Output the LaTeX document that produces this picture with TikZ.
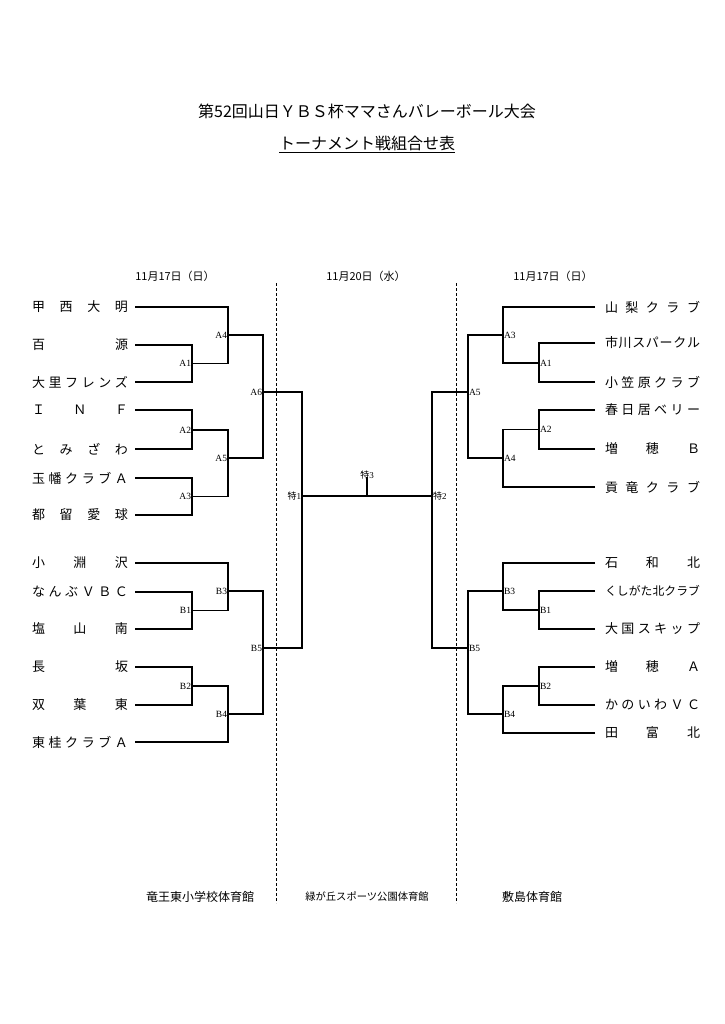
\documentclass[tikz,border=0pt]{standalone}
\usepackage{fontspec}
\setmainfont{Noto Sans CJK JP}
\newfontfamily\lserif{Liberation Serif}
\newcommand\tgap{\hfill}
\begin{document}
\begin{tikzpicture}[x=1pt,y=-1pt,
  every node/.style={inner sep=0pt, outer sep=0pt},
  lteam/.style={anchor=west, font=\fontsize{13}{14}\selectfont},
  mlab/.style={font=\lserif\fontsize{9.5}{10}\selectfont, inner sep=1pt},
  slab/.style={font=\fontsize{9}{10}\selectfont, inner sep=1pt},
  bline/.style={line width=1.1pt},
  sepline/.style={dash pattern=on 3pt off 2pt, line width=0.8pt},
  datelab/.style={font=\fontsize{11}{12}\selectfont},
  venue/.style={font=\fontsize{12}{14}\selectfont}]
\useasboundingbox (0,0) rectangle (724,1024);
\fill[white] (0,0) rectangle (724,1024);

% titles
\node[font=\fontsize{16}{18}\selectfont] (T1) at (367,111) {第52回山日ＹＢＳ杯ママさんバレーボール大会};
\node[font=\fontsize{16}{18}\selectfont] (T2) at (367,144) {\underline{トーナメント戦組合せ表}};

% dates
\node[datelab] (D1) at (175,276) {11月17日（日）};
\node[datelab] (D2) at (366,276) {11月20日（水）};
\node[datelab] (D3) at (553,276) {11月17日（日）};

% separators
\coordinate (SepLT) at (276,283);
\coordinate (SepLB) at (276,903);
\coordinate (SepRT) at (456,283);
\coordinate (SepRB) at (456,903);
\draw[sepline] (SepLT) -- (SepLB);
\draw[sepline] (SepRT) -- (SepRB);

% venues
\node[venue] (V1) at (200,897) {竜王東小学校体育館};
\node[font=\fontsize{10.3}{12}\selectfont] (V2) at (367,897) {緑が丘スポーツ公園体育館};
\node[venue] (V3) at (532,897) {敷島体育館};

% left teams
\node[lteam] (L1) at (32,307) {\hbox to 96pt{甲\tgap 西\tgap 大\tgap 明}};
\node[lteam] (L2) at (32,345) {\hbox to 96pt{百\tgap 源}};
\node[lteam] (L3) at (32,382) {\hbox to 96pt{大\tgap 里\tgap フ\tgap レ\tgap ン\tgap ズ}};
\node[lteam] (L4) at (32,410) {\hbox to 96pt{Ｉ\tgap Ｎ\tgap Ｆ}};
\node[lteam] (L5) at (32,449) {\hbox to 96pt{と\tgap み\tgap ざ\tgap わ}};
\node[lteam] (L6) at (32,478) {\hbox to 96pt{玉\tgap 幡\tgap ク\tgap ラ\tgap ブ\tgap Ａ}};
\node[lteam] (L7) at (32,515) {\hbox to 96pt{都\tgap 留\tgap 愛\tgap 球}};
\node[lteam] (L8) at (32,563) {\hbox to 96pt{小\tgap 淵\tgap 沢}};
\node[lteam] (L9) at (32,592) {\hbox to 96pt{な\tgap ん\tgap ぶ\tgap Ｖ\tgap Ｂ\tgap Ｃ}};
\node[lteam] (L10) at (32,629) {\hbox to 96pt{塩\tgap 山\tgap 南}};
\node[lteam] (L11) at (32,667) {\hbox to 96pt{長\tgap 坂}};
\node[lteam] (L12) at (32,705) {\hbox to 96pt{双\tgap 葉\tgap 東}};
\node[lteam] (L13) at (32,742) {\hbox to 96pt{東\tgap 桂\tgap ク\tgap ラ\tgap ブ\tgap Ａ}};

% right teams
\node[lteam] (R1) at (605,307) {\hbox to 95pt{山\tgap 梨\tgap ク\tgap ラ\tgap ブ}};
\node[lteam] (R2) at (605,343) {\hbox to 95pt{市\tgap 川\tgap ス\tgap パ\tgap ー\tgap ク\tgap ル}};
\node[lteam] (R3) at (605,382) {\hbox to 95pt{小\tgap 笠\tgap 原\tgap ク\tgap ラ\tgap ブ}};
\node[lteam] (R4) at (605,410) {\hbox to 95pt{春\tgap 日\tgap 居\tgap ベ\tgap リ\tgap ー}};
\node[lteam] (R5) at (605,449) {\hbox to 95pt{増\tgap 穂\tgap Ｂ}};
\node[lteam] (R6) at (605,487) {\hbox to 95pt{貢\tgap 竜\tgap ク\tgap ラ\tgap ブ}};
\node[lteam] (R7) at (605,563) {\hbox to 95pt{石\tgap 和\tgap 北}};
\node[lteam, font=\fontsize{11.8}{13}\selectfont] (R8) at (605,591) {\hbox to 95pt{く\tgap し\tgap が\tgap た\tgap 北\tgap ク\tgap ラ\tgap ブ}};
\node[lteam] (R9) at (605,629) {\hbox to 95pt{大\tgap 国\tgap ス\tgap キ\tgap ッ\tgap プ}};
\node[lteam] (R10) at (605,667) {\hbox to 95pt{増\tgap 穂\tgap Ａ}};
\node[lteam] (R11) at (605,705) {\hbox to 95pt{か\tgap の\tgap い\tgap わ\tgap Ｖ\tgap Ｃ}};
\node[lteam] (R12) at (605,733) {\hbox to 95pt{田\tgap 富\tgap 北}};

% match points
\coordinate (lA1) at (192,363.5);
\coordinate (lA2) at (192,430);
\coordinate (lA3) at (192,496.5);
\coordinate (lA4) at (228,335);
\coordinate (lA5) at (228,458);
\coordinate (lA6) at (263,392);
\coordinate (lB1) at (192,610.5);
\coordinate (lB2) at (192,686);
\coordinate (lB3) at (228,591);
\coordinate (lB4) at (228,714);
\coordinate (lB5) at (263,648);
\coordinate (S1) at (302,496);
\coordinate (S2) at (432,496);
\coordinate (S3) at (367,477);
\coordinate (rA1) at (539,363);
\coordinate (rA2) at (539,429.5);
\coordinate (rA3) at (503,335);
\coordinate (rA4) at (503,458);
\coordinate (rA5) at (468,392);
\coordinate (rB1) at (539,610);
\coordinate (rB2) at (539,686);
\coordinate (rB3) at (503,591);
\coordinate (rB4) at (503,714);
\coordinate (rB5) at (468,648);

% left bracket
\draw[bline] ([xshift=7pt]L1.east) -| (lA4);
\draw[bline] ([xshift=7pt]L2.east) -| (lA1);
\draw[bline] ([xshift=7pt]L3.east) -| (lA1);
\draw[bline] (lA1) -| (lA4);
\draw[bline] (lA4) -| (lA6);
\draw[bline] ([xshift=7pt]L4.east) -| (lA2);
\draw[bline] ([xshift=7pt]L5.east) -| (lA2);
\draw[bline] (lA2) -| (lA5);
\draw[bline] ([xshift=7pt]L6.east) -| (lA3);
\draw[bline] ([xshift=7pt]L7.east) -| (lA3);
\draw[bline] (lA3) -| (lA5);
\draw[bline] (lA5) -| (lA6);
\draw[bline] (lA6) -| (S1);
\draw[bline] ([xshift=7pt]L8.east) -| (lB3);
\draw[bline] ([xshift=7pt]L9.east) -| (lB1);
\draw[bline] ([xshift=7pt]L10.east) -| (lB1);
\draw[bline] (lB1) -| (lB3);
\draw[bline] (lB3) -| (lB5);
\draw[bline] ([xshift=7pt]L11.east) -| (lB2);
\draw[bline] ([xshift=7pt]L12.east) -| (lB2);
\draw[bline] (lB2) -| (lB4);
\draw[bline] ([xshift=7pt]L13.east) -| (lB4);
\draw[bline] (lB4) -| (lB5);
\draw[bline] (lB5) -| (S1);

% final
\draw[bline] (S1) -- (S2);
\draw[bline] (S3) -- (S3 |- S1);

% right bracket
\draw[bline] ([xshift=-10pt]R1.west) -| (rA3);
\draw[bline] ([xshift=-10pt]R2.west) -| (rA1);
\draw[bline] ([xshift=-10pt]R3.west) -| (rA1);
\draw[bline] (rA1) -| (rA3);
\draw[bline] (rA3) -| (rA5);
\draw[bline] ([xshift=-10pt]R4.west) -| (rA2);
\draw[bline] ([xshift=-10pt]R5.west) -| (rA2);
\draw[bline] (rA2) -| (rA4);
\draw[bline] ([xshift=-10pt]R6.west) -| (rA4);
\draw[bline] (rA4) -| (rA5);
\draw[bline] (rA5) -| (S2);
\draw[bline] ([xshift=-10pt]R7.west) -| (rB3);
\draw[bline] ([xshift=-10pt]R8.west) -| (rB1);
\draw[bline] ([xshift=-10pt]R9.west) -| (rB1);
\draw[bline] (rB1) -| (rB3);
\draw[bline] (rB3) -| (rB5);
\draw[bline] ([xshift=-10pt]R10.west) -| (rB2);
\draw[bline] ([xshift=-10pt]R11.west) -| (rB2);
\draw[bline] (rB2) -| (rB4);
\draw[bline] ([xshift=-10pt]R12.west) -| (rB4);
\draw[bline] (rB4) -| (rB5);
\draw[bline] (rB5) -| (S2);

% match labels
\node[mlab, anchor=east] (tlA1) at (lA1) {A1};
\node[mlab, anchor=east] (tlA2) at (lA2) {A2};
\node[mlab, anchor=east] (tlA3) at (lA3) {A3};
\node[mlab, anchor=east] (tlA4) at (lA4) {A4};
\node[mlab, anchor=east] (tlA5) at (lA5) {A5};
\node[mlab, anchor=east] (tlA6) at (lA6) {A6};
\node[mlab, anchor=east] (tlB1) at (lB1) {B1};
\node[mlab, anchor=east] (tlB2) at (lB2) {B2};
\node[mlab, anchor=east] (tlB3) at (lB3) {B3};
\node[mlab, anchor=east] (tlB4) at (lB4) {B4};
\node[mlab, anchor=east] (tlB5) at (lB5) {B5};
\node[mlab, anchor=west] (trA1) at (rA1) {A1};
\node[mlab, anchor=west] (trA2) at (rA2) {A2};
\node[mlab, anchor=west] (trA3) at (rA3) {A3};
\node[mlab, anchor=west] (trA4) at (rA4) {A4};
\node[mlab, anchor=west] (trA5) at (rA5) {A5};
\node[mlab, anchor=west] (trB1) at (rB1) {B1};
\node[mlab, anchor=west] (trB2) at (rB2) {B2};
\node[mlab, anchor=west] (trB3) at (rB3) {B3};
\node[mlab, anchor=west] (trB4) at (rB4) {B4};
\node[mlab, anchor=west] (trB5) at (rB5) {B5};
\node[slab, anchor=east] (tS1) at (S1) {特{\lserif 1}};
\node[slab, anchor=west] (tS2) at (S2) {特{\lserif 2}};
\node[slab, anchor=south] (tS3) at ([yshift=-3pt]S3) {特{\lserif 3}};
\end{tikzpicture}
\end{document}
